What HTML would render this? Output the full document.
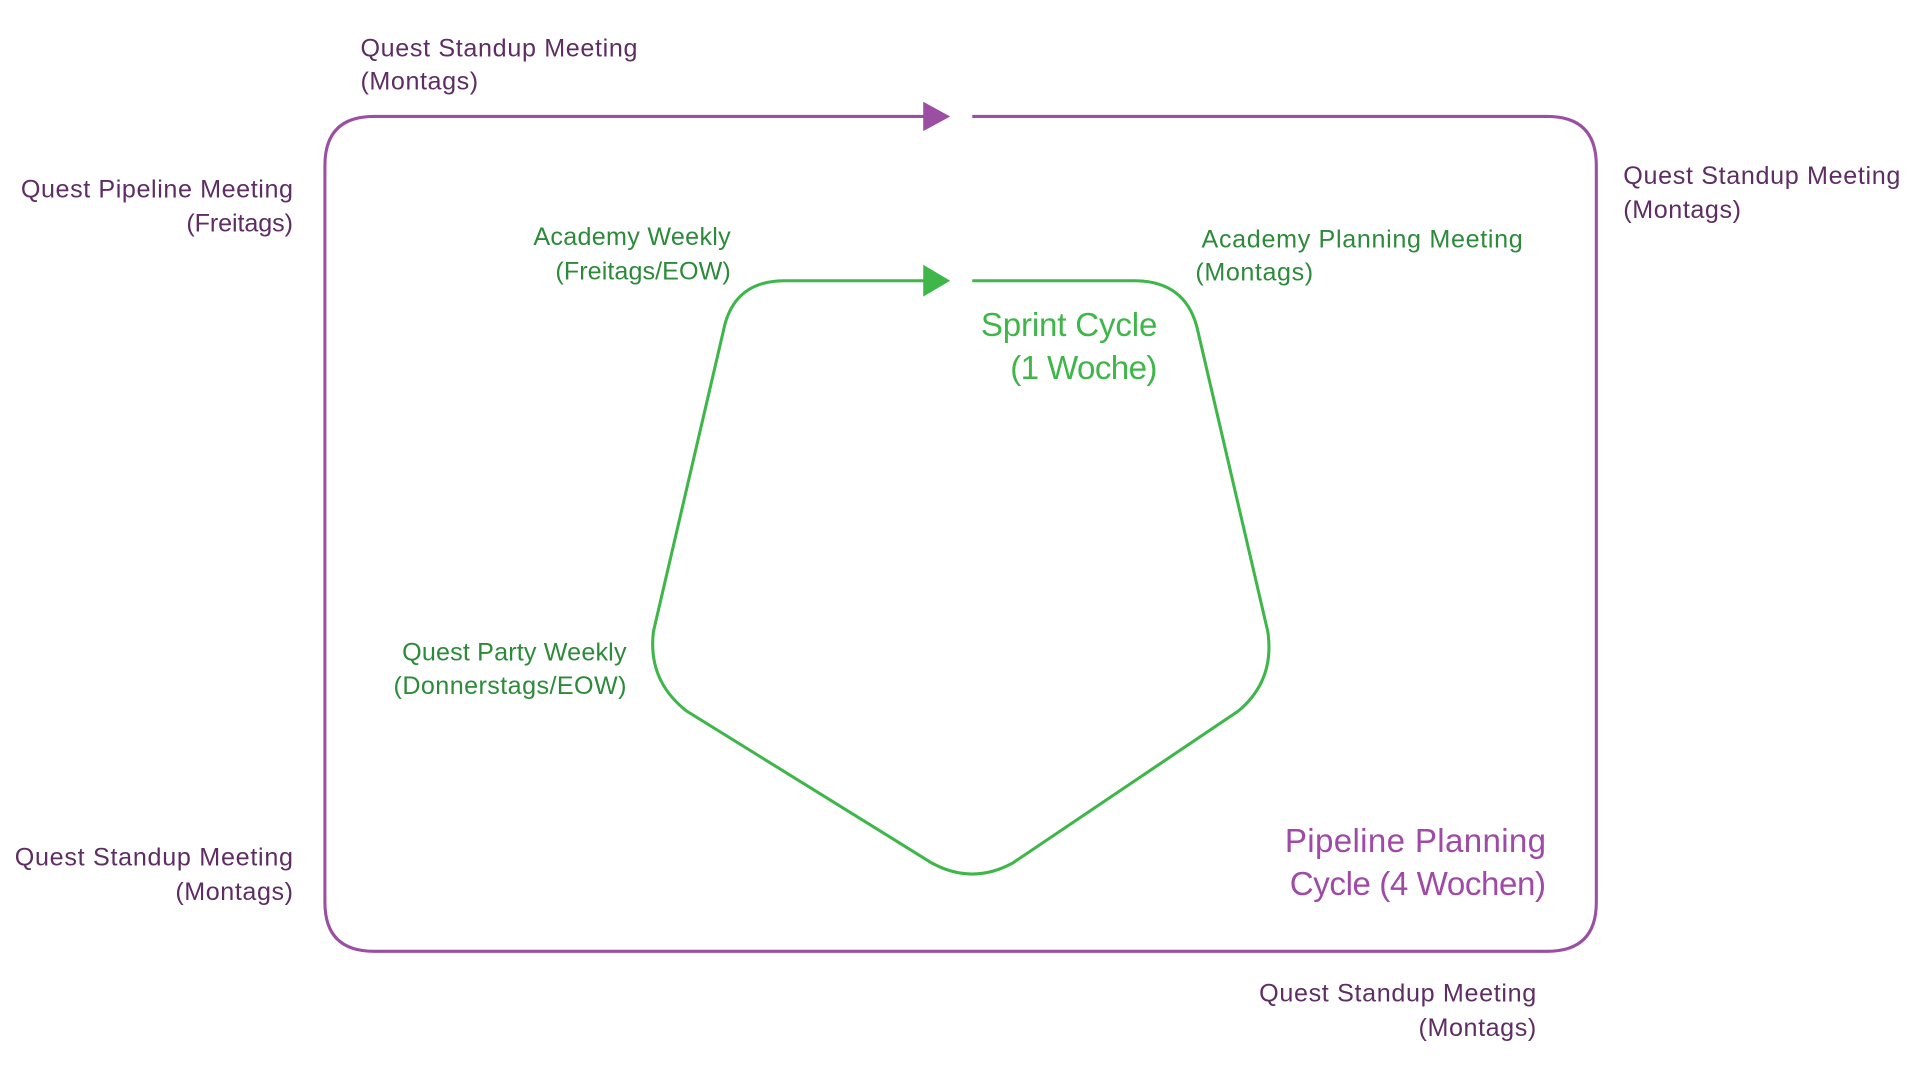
<!DOCTYPE html>
<html><head><meta charset="utf-8"><style>
html,body{margin:0;padding:0;background:#fff;width:1920px;height:1080px;overflow:hidden}
svg{display:block}
text{font-family:"Liberation Sans",sans-serif}
.p{fill:#5e2d63;font-size:20.5px}
.g{fill:#2c8a3a;font-size:20.5px}
</style></head><body>
<svg width="1920" height="1080" viewBox="0 0 1566 881" preserveAspectRatio="none">
<path d="M755 95 H305 Q265 95 265 135 V736 Q265 776 305 776 H1262 Q1302 776 1302 736 V135 Q1302 95 1262 95 H793" fill="none" stroke="#9b4fa2" stroke-width="2.5"/>
<polygon points="753,83 775,95 753,107" fill="#9b4fa2"/>
<path d="M755 229 H640 Q598 229 590 270 L533 515 Q528 555 560 580 L760 704 Q793 722 826 704 L1010 580 Q1040 555 1034 515 L977 270 Q968 229 925 229 H793" fill="none" stroke="#3fb64a" stroke-width="2.5"/>
<polygon points="753,216 775,229 753,242" fill="#3fb64a"/>
<text class="p" x="294" y="46" textLength="226">Quest Standup Meeting</text>
<text class="p" x="294" y="73" textLength="96">(Montags)</text>
<text class="p" x="239" y="161" text-anchor="end" textLength="222">Quest Pipeline Meeting</text>
<text class="p" x="239" y="189" text-anchor="end" textLength="87">(Freitags)</text>
<text class="p" x="1324" y="150" textLength="226">Quest Standup Meeting</text>
<text class="p" x="1324" y="178" textLength="96">(Montags)</text>
<text class="g" x="596" y="200" text-anchor="end" textLength="161">Academy Weekly</text>
<text class="g" x="596" y="228" text-anchor="end" textLength="143">(Freitags/EOW)</text>
<text class="g" x="980" y="202" textLength="262">Academy Planning Meeting</text>
<text class="g" x="975" y="229" textLength="96">(Montags)</text>
<text x="944" y="274" text-anchor="end" textLength="144" style="fill:#3fb64a;font-size:27px">Sprint Cycle</text>
<text x="944" y="309" text-anchor="end" textLength="120" style="fill:#3fb64a;font-size:27px">(1 Woche)</text>
<text class="g" x="511" y="539" text-anchor="end" textLength="183">Quest Party Weekly</text>
<text class="g" x="511" y="566" text-anchor="end" textLength="190">(Donnerstags/EOW)</text>
<text x="1261" y="695" text-anchor="end" textLength="213" style="fill:#a04aa7;font-size:27px">Pipeline Planning</text>
<text x="1261" y="730" text-anchor="end" textLength="209" style="fill:#a04aa7;font-size:27px">Cycle (4 Wochen)</text>
<text class="p" x="239" y="706" text-anchor="end" textLength="227">Quest Standup Meeting</text>
<text class="p" x="239" y="734" text-anchor="end" textLength="96">(Montags)</text>
<text class="p" x="1253" y="817" text-anchor="end" textLength="226">Quest Standup Meeting</text>
<text class="p" x="1253" y="845" text-anchor="end" textLength="96">(Montags)</text>
</svg>
</body></html>
